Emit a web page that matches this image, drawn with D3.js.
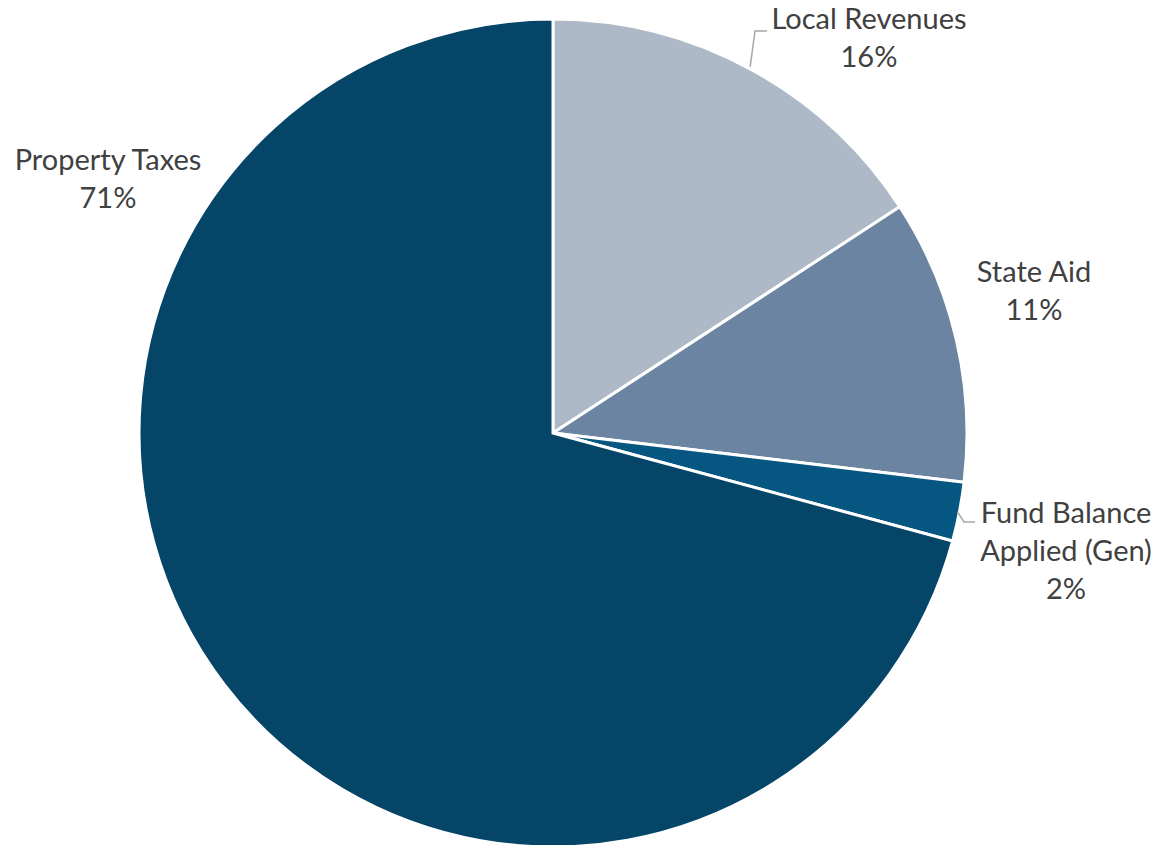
<!DOCTYPE html>
<html>
<head>
<meta charset="utf-8">
<script src="https://cdn.jsdelivr.net/npm/d3@7"></script>
<style>
  html, body { margin: 0; padding: 0; background: #ffffff; }
  svg { display: block; }
  text { font-family: Lato, "Open Sans", sans-serif; fill: #404040; }
</style>
</head>
<body>
<svg id="chart" width="1159" height="845"></svg>
<script>
const categories = ["Local Revenues", "State Aid", "Fund Balance Applied (Gen)", "Property Taxes"];
const values = [15.8, 11.1, 2.3, 70.8];
const percentLabels = ["16%", "11%", "2%", "71%"];
const colors = ["#ADB9C7", "#6A84A2", "#055680", "#044568"];

const width = 1159, height = 845;
const cx = 553, cy = 433, radius = 414;

const svg = d3.select("#chart");
const data = categories.map((c, i) => ({ name: c, value: values[i], pct: percentLabels[i], color: colors[i] }));

const pie = d3.pie().value(d => d.value).sort(null);
const arc = d3.arc().innerRadius(0).outerRadius(radius);
const arcs = pie(data);

const g = svg.append("g").attr("transform", `translate(${cx},${cy})`);
g.selectAll("path.slice")
  .data(arcs)
  .enter().append("path")
  .attr("class", "slice")
  .attr("d", arc)
  .attr("fill", d => d.data.color)
  .attr("stroke", "#ffffff")
  .attr("stroke-width", 3)
  .attr("stroke-linejoin", "miter");

const labelLayout = [
  { lines: ["Local Revenues", "16%"], x: 869, y: 29 },
  { lines: ["State Aid", "11%"], x: 1034, y: 282 },
  { lines: ["Fund Balance", "Applied (Gen)", "2%"], x: 1066, y: 523 },
  { lines: ["Property Taxes", "71%"], x: 108, y: 170 }
];
const lineH = 38;
const fontSize = 29;

const labels = svg.append("g");
labelLayout.forEach((L) => {
  const t = labels.append("text")
    .attr("text-anchor", "middle")
    .attr("font-size", fontSize);
  L.lines.forEach((ln, j) => {
    t.append("tspan").attr("x", L.x).attr("y", L.y + j * lineH).text(ln);
  });
});

function edgePoint(a) {
  return [cx + radius * Math.sin(a), cy - radius * Math.cos(a)];
}
// Local Revenues leader
{
  const a = (arcs[0].startAngle + arcs[0].endAngle) / 2;
  const p0 = edgePoint(a);
  const pts = [[p0[0], p0[1] - 2], [755, 31], [767, 31]];
  svg.append("path").attr("d", d3.line()(pts))
    .attr("stroke", "#A6A6A6").attr("stroke-width", 1.5).attr("fill", "none");
}
// Fund Balance leader
{
  const a = (arcs[2].startAngle + arcs[2].endAngle) / 2;
  const p0 = edgePoint(a);
  const pts = [[p0[0] - 2, p0[1]], [964, 522], [975, 522]];
  svg.append("path").attr("d", d3.line()(pts))
    .attr("stroke", "#A6A6A6").attr("stroke-width", 1.5).attr("fill", "none");
}
</script>
</body>
</html>
